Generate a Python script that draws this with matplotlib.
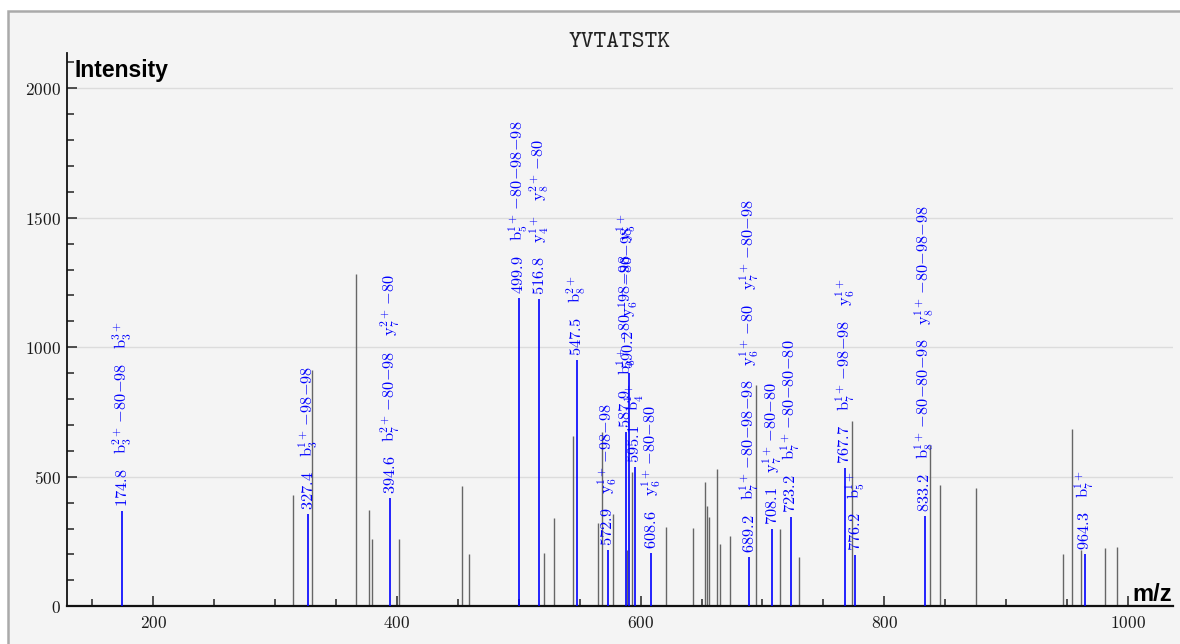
import matplotlib
matplotlib.use('Agg')
import matplotlib.pyplot as plt
from matplotlib.patches import Rectangle
from matplotlib.ticker import MultipleLocator

# unmatched peaks (grey)
gray_mz = [314.5, 330.6, 366.6, 377.3, 379.4, 401.5, 453.4, 459.6, 520.7, 528.9,
           544.8, 564.8, 568.0, 577.1, 588.6, 593.2, 620.5, 643.3, 653.1, 654.5,
           656.2, 662.4, 665.2, 673.6, 694.9, 714.2, 730.2, 773.9, 837.5, 845.7,
           875.3, 946.4, 954.3, 961.6, 981.1, 991.0]
gray_int = [430, 913, 1282, 372, 260, 260, 464, 203, 206, 341,
            659, 322, 674, 355, 216, 520, 305, 302, 479, 386,
            345, 530, 242, 273, 855, 298, 192, 717, 623, 468,
            457, 201, 685, 217, 224, 228]

# annotated peaks (blue)
blue_mz = [174.8, 327.4, 394.6, 499.9, 516.8, 547.5, 572.9, 587.9, 590.2, 595.1,
           608.6, 689.2, 708.1, 723.2, 767.7, 776.2, 833.2, 964.3]
blue_int = [369, 356, 417, 1191, 1185, 951, 217, 674, 900, 539,
            207, 192, 300, 345, 533, 198, 349, 201]
blue_labels = [
    [r'b_3^{2+}-80-98', r'b_3^{3+}'],
    [r'b_3^{1+}-98-98'],
    [r'b_7^{2+}-80-98', r'y_7^{2+}-80'],
    [r'b_5^{1+}-80-98-98'],
    [r'y_4^{1+}', r'y_8^{2+}-80'],
    [r'b_8^{2+}'],
    [r'y_6^{1+}-98-98'],
    [r'b_6^{1+}-80-98-98', r'y_5^{1+}'],
    [r'y_6^{1+}-80-98'],
    [r'b_4^{1+}'],
    [r'y_6^{1+}-80-80'],
    [r'b_7^{1+}-80-98-98', r'y_6^{1+}-80', r'y_7^{1+}-80-98'],
    [r'y_7^{1+}-80-80'],
    [r'b_7^{1+}-80-80-80'],
    [r'b_7^{1+}-98-98', r'y_6^{1+}'],
    [r'b_5^{1+}'],
    [r'b_8^{1+}-80-80-98', r'y_8^{1+}-80-98-98'],
    [r'b_7^{1+}'],
]

title = 'YVTATSTK'
W, H = 1180, 644


def ion_tex(s):
    # "b_3^{2+}-80-98" -> mathtext with roman ion letter and tight losses
    head, _, rest = s.partition('-')
    out = r'\mathrm{%s}%s' % (head[0], head[1:])
    if rest:
        out += r'\,' + ''.join('{-}' + p for p in rest.split('-'))
    return '$' + out + '$'


plt.rcParams['mathtext.fontset'] = 'cm'
plt.rcParams['axes.formatter.use_mathtext'] = True

fig = plt.figure(figsize=(W / 100, H / 100), dpi=100)
fig.patch.set_facecolor('white')
fig.patches.append(Rectangle((8 / W, -0.05), 1.2, (H - 11) / H + 0.05,
                             transform=fig.transFigure, facecolor='#f4f4f4',
                             edgecolor='#aaaaaa', linewidth=1.8, zorder=-10))

ax = fig.add_axes([67 / W, (H - 606.3) / H, (1172.5 - 67) / W, (606.3 - 53) / H])
ax.set_facecolor('none')
ax.set_xlim(129.3, 1036.5)
ax.set_ylim(0, 2136)

ax.vlines(gray_mz, 0, gray_int, color='#666666', lw=1.0, zorder=2)
ax.vlines(blue_mz, 0, blue_int, color='#0000ff', lw=1.2, zorder=3)

ax.yaxis.set_major_locator(MultipleLocator(500))
ax.yaxis.set_minor_locator(MultipleLocator(100))
ax.xaxis.set_major_locator(MultipleLocator(200))
ax.xaxis.set_minor_locator(MultipleLocator(50))
ax.tick_params(which='both', direction='in', color='#222222', width=1.1)
ax.tick_params(which='major', length=7.2)
ax.tick_params(which='minor', length=5)
ax.tick_params(axis='y', which='major', pad=4.3, labelsize=12.5, labelcolor='#1a1a1a')
ax.tick_params(axis='x', which='major', pad=6, labelsize=12.5, labelcolor='#1a1a1a')
for lbl in ax.get_xticklabels() + ax.get_yticklabels():
    lbl.set_fontfamily('cmr10')

ax.grid(axis='y', color='#dcdcdc', lw=1.0, zorder=0)
ax.set_axisbelow(True)
for side in ('top', 'right'):
    ax.spines[side].set_visible(False)
ax.spines['left'].set_linewidth(1.3)
ax.spines['bottom'].set_linewidth(1.6)
ax.spines['left'].set_color('#111111')
ax.spines['bottom'].set_color('#111111')

ax.set_title(title, family='cmtt10', fontsize=17.5, color='#222222', pad=3)
ax.annotate('Intensity', xy=(0, 1), xycoords='axes fraction', xytext=(7, -6),
            textcoords='offset pixels', ha='left', va='top',
            family='Liberation Sans', fontweight='bold', fontsize=16.5)
ax.annotate('m/z', xy=(1, 0), xycoords='axes fraction', xytext=(0, 5),
            textcoords='offset pixels', ha='right', va='baseline',
            family='Liberation Sans', fontweight='bold', fontsize=17)

fig.canvas.draw()
rend = fig.canvas.get_renderer()
for mz, inten, labels in zip(blue_mz, blue_int, blue_labels):
    texts = ['$%.1f$' % mz] + [ion_tex(s) for s in labels]
    off = 4
    for s in texts:
        t = ax.annotate(s, xy=(mz, inten), xytext=(0, off), textcoords='offset pixels',
                        rotation=90, ha='center', va='bottom', color='#0000ff',
                        fontsize=11.8, zorder=4)
        bb = t.get_window_extent(rend)
        off += bb.height + 14

fig.savefig('out.png', dpi=100)
